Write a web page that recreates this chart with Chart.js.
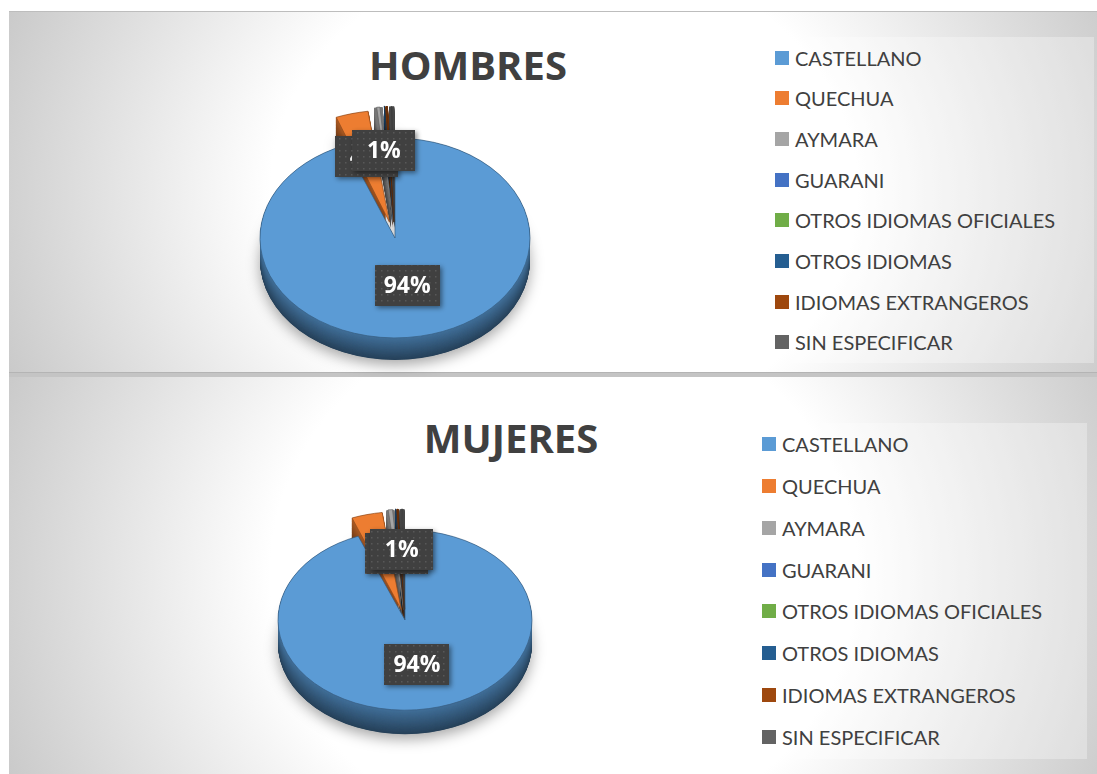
<!DOCTYPE html>
<html>
<head>
<meta charset="utf-8">
<script src="https://cdn.jsdelivr.net/npm/chart.js@4.4.1/dist/chart.umd.min.js"></script>
<style>
  html, body { margin: 0; padding: 0; background: #ffffff; width: 1097px; height: 774px; overflow: hidden; }
  .panel { position: absolute; left: 9px; width: 1088px; box-sizing: border-box;
           background: radial-gradient(ellipse 60% 150% at 51% 50%, #ffffff 45%, #c0c0c0 100%); }
  #panel1 { top: 11px; height: 361px; border-top: 1px solid #bdbdbd; }
  #divider { position: absolute; left: 9px; top: 372px; width: 1088px; height: 5px; background: #c4c4c4; border-top: 1px solid #b4b4b4; box-sizing: border-box; }
  #panel2 { top: 377px; height: 397px; }
  .title { position: absolute; font: bold 40px 'Open Sans', sans-serif; line-height: 40px; color: #404040;
           white-space: nowrap; transform: translateX(-50%); }
  .legend { position: absolute; background: rgba(255,255,255,0.3); }
  .row { position: absolute; display: flex; align-items: center; height: 20px; white-space: nowrap;
         font: 20px Lato, sans-serif; line-height: 20px; color: #404040; }
  .row i { display: inline-block; width: 14px; height: 14px; margin-right: 6px; }
  canvas { position: absolute; }
</style>
</head>
<body>
<div class="panel" id="panel1"></div>
<div id="divider"></div>
<div class="panel" id="panel2"></div>

<div class="title" id="title1" style="left:468px; top:45px;"></div>
<div class="title" id="title2" style="left:511px; top:418px;"></div>

<div class="legend" id="legend1" style="left:740px; top:37px; width:354px; height:326px;"></div>
<div class="legend" id="legend2" style="left:720px; top:423px; width:367px; height:336px;"></div>

<canvas id="pie1" width="320" height="300" style="left:235px; top:88px;"></canvas>
<canvas id="pie2" width="300" height="290" style="left:255px; top:475px;"></canvas>

<script>
// Language categories and the share (%) of each, per group
const categories = ['CASTELLANO', 'QUECHUA', 'AYMARA', 'GUARANI', 'OTROS IDIOMAS OFICIALES',
                    'OTROS IDIOMAS', 'IDIOMAS EXTRANGEROS', 'SIN ESPECIFICAR'];
const hombresValues = [94, 4, 1, 0, 0, 0.1, 0.3, 0.6];
const mujeresValues = [94, 4, 1, 0, 0, 0.1, 0.3, 0.6];
const groupTitles = ['HOMBRES', 'MUJERES'];

// Slice palette
const sliceColors = ['#5b9bd5', '#ed7d31', '#a5a5a5', '#4472c4', '#70ad47', '#255e91', '#9e480e', '#636363'];

function hexToRgb(h) {
  const n = parseInt(h.slice(1), 16);
  return [(n >> 16) & 255, (n >> 8) & 255, n & 255];
}
function shade(h, f) {
  const [r, g, b] = hexToRgb(h);
  return `rgb(${Math.round(r * f)},${Math.round(g * f)},${Math.round(b * f)})`;
}

// Same outward displacement Chart.js applies to an exploded arc
function sliceDisp(arc) {
  const off = arc.options.offset || 0;
  return off / 4 * (2 - Math.sin(Math.min(Math.PI, arc.circumference || 0)));
}

// Dotted dark fill for the value badges
function badgePattern(ctx) {
  const c = document.createElement('canvas');
  c.width = 6; c.height = 6;
  const g = c.getContext('2d');
  g.fillStyle = '#404040'; g.fillRect(0, 0, 6, 6);
  g.fillStyle = '#585858'; g.fillRect(2, 2, 1.5, 1.5);
  return ctx.createPattern(c, 'repeat');
}

// Tilts the pie into an ellipse, adds a side wall and draws the value badges
const pie3d = {
  id: 'pie3d',
  beforeDatasetsDraw(chart, args, o) {
    const ctx = chart.ctx;
    const arcs = chart.getDatasetMeta(0).data;
    const cx = arcs[0].x, cy = arcs[0].y;
    ctx.save();
    ctx.translate(cx, cy); ctx.scale(1, o.tilt); ctx.translate(-cx, -cy);
    const depthU = o.depth / o.tilt;
    arcs.forEach((arc, i) => {
      if (!arc.circumference) return;
      const [r, g, b] = hexToRgb(sliceColors[i]);
      const mid = (arc.startAngle + arc.endAngle) / 2;
      const d = sliceDisp(arc);
      const ox = arc.x + Math.cos(mid) * d, oy = arc.y + Math.sin(mid) * d;
      for (let k = depthU; k >= 0; k -= 0.5) {
        const t = k / depthU;
        const f = 0.72 - 0.3 * t;
        ctx.fillStyle = `rgb(${Math.round(r * f)},${Math.round(g * f)},${Math.round(b * f)})`;
        if (k === depthU) {
          ctx.shadowColor = 'rgba(0,0,0,0.35)'; ctx.shadowBlur = 14; ctx.shadowOffsetY = 5;
        } else {
          ctx.shadowColor = 'transparent'; ctx.shadowBlur = 0; ctx.shadowOffsetY = 0;
        }
        ctx.beginPath();
        ctx.moveTo(ox, oy + k);
        ctx.arc(ox, oy + k, arc.outerRadius, arc.startAngle, arc.endAngle);
        ctx.closePath();
        ctx.fill();
      }
    });
    ctx.shadowColor = 'transparent'; ctx.shadowBlur = 0; ctx.shadowOffsetY = 0;
  },
  afterDatasetsDraw(chart, args, o) {
    const ctx = chart.ctx;
    ctx.restore();
    const arcs = chart.getDatasetMeta(0).data;
    const values = chart.data.datasets[0].data;
    const pattern = badgePattern(ctx);
    ctx.font = "bold 23px 'Open Sans', sans-serif";
    ctx.textAlign = 'center';
    ctx.textBaseline = 'middle';
    arcs.forEach((arc, i) => {
      if (values[i] < 1) return;
      const mid = (arc.startAngle + arc.endAngle) / 2;
      const big = i === 0;
      const frac = big ? o.bigLabel : o.smallLabel;
      const rr = arc.outerRadius * frac + sliceDisp(arc);
      const x = arc.x + Math.cos(mid) * rr * (big ? 1 : o.smallSpreadX);
      const y = arc.y + Math.sin(mid) * rr * o.tilt;
      const text = Math.round(values[i]) + '%';
      const w = Math.max(ctx.measureText(text).width + 18, 63), h = 41;
      ctx.save();
      ctx.shadowColor = 'rgba(0,0,0,0.45)'; ctx.shadowBlur = 5; ctx.shadowOffsetX = 2; ctx.shadowOffsetY = 2;
      ctx.fillStyle = pattern;
      ctx.fillRect(Math.round(x - w / 2), Math.round(y - h / 2), Math.round(w), h);
      ctx.restore();
      ctx.fillStyle = '#ffffff';
      ctx.fillText(text, x, y + 1);
    });
  }
};

function buildPie(id, values, look) {
  return new Chart(document.getElementById(id), {
    type: 'pie',
    data: {
      labels: categories,
      datasets: [{
        data: values,
        backgroundColor: sliceColors,
        borderColor: sliceColors.map(c => shade(c, 0.6)),
        borderWidth: 0.8,
        offset: values.map((v, i) => (i === 0 ? 0 : look.explode)),
        radius: look.radius
      }]
    },
    options: {
      responsive: false,
      animation: false,
      events: [],
      layout: { padding: 0 },
      plugins: {
        legend: { display: false },
        tooltip: { enabled: false },
        pie3d: look
      }
    },
    plugins: [pie3d]
  });
}

function buildLegend(id, firstRow, rowStep, markerLeft) {
  const box = document.getElementById(id);
  categories.forEach((name, i) => {
    const row = document.createElement('div');
    row.className = 'row';
    row.style.left = markerLeft + 'px';
    row.style.top = (firstRow + rowStep * i - 10) + 'px';
    const sw = document.createElement('i');
    sw.style.background = sliceColors[i];
    row.appendChild(sw);
    row.appendChild(document.createTextNode(name));
    box.appendChild(row);
  });
}

document.getElementById('title1').textContent = groupTitles[0];
document.getElementById('title2').textContent = groupTitles[1];
buildLegend('legend1', 20.7, 40.65, 35);
buildLegend('legend2', 21, 41.85, 42);

buildPie('pie1', hombresValues, { radius: 135, tilt: 0.74, depth: 22, explode: 88, bigLabel: 0.48, smallLabel: 0.56, smallSpreadX: 1 });
buildPie('pie2', mujeresValues, { radius: 127, tilt: 0.71, depth: 24, explode: 60, bigLabel: 0.5, smallLabel: 0.56, smallSpreadX: 0.35 });
</script>
</body>
</html>
